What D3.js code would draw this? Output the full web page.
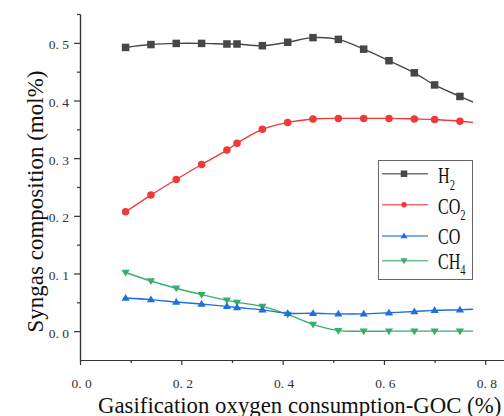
<!DOCTYPE html>
<html>
<head>
<meta charset="utf-8">
<script src="https://cdn.jsdelivr.net/npm/d3@7"></script>
<style>
  html, body { margin: 0; padding: 0; background: #fff; }
  svg { display: block; }
  text { font-family: "Liberation Serif", "DejaVu Serif", serif; }
</style>
</head>
<body>
<script>
// ---- data ----
const goc = [0.09, 0.14, 0.19, 0.24, 0.29, 0.31, 0.36, 0.41, 0.46, 0.51, 0.56, 0.61, 0.66, 0.70, 0.75, 0.776];
const h2  = [0.492, 0.497, 0.499, 0.499, 0.498, 0.498, 0.495, 0.501, 0.509, 0.506, 0.489, 0.469, 0.448, 0.427, 0.407, 0.397];
const co2 = [0.207, 0.236, 0.263, 0.289, 0.314, 0.326, 0.350, 0.362, 0.368, 0.369, 0.369, 0.369, 0.368, 0.367, 0.364, 0.362];
const co  = [0.0575, 0.0547, 0.0505, 0.047, 0.043, 0.041, 0.037, 0.031, 0.031, 0.030, 0.030, 0.032, 0.034, 0.036, 0.037, 0.038];
const ch4 = [0.1017, 0.087, 0.0744, 0.0634, 0.0535, 0.050, 0.043, 0.029, 0.0117, 0.001, 0.0, 0.0, 0.0, 0.0, 0.0, 0.0];
// the last point of each series ends the fitted line and carries no marker
const markerCount = 15;

const xMajorTicks = [0, 0.2, 0.4, 0.6, 0.8];
const xMinorTicks = [0.1, 0.3, 0.5, 0.7];
const yMajorTicks = [0, 0.1, 0.2, 0.3, 0.4, 0.5];
const yMinorTicks = [0.05, 0.15, 0.25, 0.35, 0.45, 0.55];

const series = [
  { name: "H", sub: "2", values: h2,  color: "#474747", marker: "square" },
  { name: "CO", sub: "2", values: co2, color: "#f03a3a", marker: "circle" },
  { name: "CO", sub: "",  values: co,  color: "#1f6fdc", marker: "triUp" },
  { name: "CH", sub: "4", values: ch4, color: "#3aad6a", marker: "triDown" }
];

const xTitle = "Gasification oxygen consumption-GOC (%)";
const yTitle = "Syngas composition (mol%)";

// ---- layout ----
const W = 504, H = 416;
const svg = d3.select("body").append("svg").attr("width", W).attr("height", H);

const x = d3.scaleLinear().domain([0, 0.837]).range([80, 504]);
const y = d3.scaleLinear().domain([-0.05, 0.55]).range([360, 14]);

const fmt = v => d3.format(".1f")(v).replace(".", ". ");

// axes
const axisColor = "#333";
function styleAxis(g) {
  g.attr("font-family", null).attr("font-size", null);
  g.selectAll("path.domain").attr("stroke", axisColor).attr("stroke-width", 1.2);
  g.selectAll(".tick line").attr("stroke", axisColor).attr("stroke-width", 1.2);
  g.selectAll(".tick text").attr("fill", "#333").style("font-size", "13.5px")
    .style("font-family", "'Liberation Serif', serif");
}

svg.append("g").attr("transform", "translate(0,360)")
  .call(d3.axisBottom(x).tickValues(xMinorTicks).tickSize(3).tickSizeOuter(0).tickFormat(""))
  .call(styleAxis);
svg.append("g").attr("transform", "translate(0,360)")
  .call(d3.axisBottom(x).tickValues(xMajorTicks).tickSize(5).tickSizeOuter(0).tickPadding(13).tickFormat(fmt))
  .call(styleAxis)
  .call(g => g.selectAll(".tick text").attr("dx", 1));

svg.append("g").attr("transform", "translate(80,0)")
  .call(d3.axisLeft(y).tickValues(yMinorTicks).tickSize(3).tickSizeOuter(0).tickFormat(""))
  .call(styleAxis);
svg.append("g").attr("transform", "translate(80,0)")
  .call(d3.axisLeft(y).tickValues(yMajorTicks).tickSize(6).tickSizeOuter(0).tickPadding(5).tickFormat(fmt))
  .call(styleAxis)
  .call(g => g.selectAll(".tick text").attr("dy", "0.45em"));

// titles
svg.append("text")
  .attr("x", 98).attr("y", 412.5)
  .attr("fill", "#111")
  .style("font-size", "22.8px")
  .text(xTitle);

svg.append("text")
  .attr("transform", "translate(42.5,201.5) rotate(-90)")
  .attr("text-anchor", "middle")
  .attr("fill", "#111")
  .style("font-size", "23px")
  .text(yTitle);

// markers
function drawMarker(g, type, cx, cy, size, color) {
  if (type === "square") {
    g.append("rect").attr("x", cx - size / 2).attr("y", cy - size / 2)
      .attr("width", size).attr("height", size).attr("fill", color);
  } else if (type === "circle") {
    g.append("circle").attr("cx", cx).attr("cy", cy).attr("r", size / 2).attr("fill", color);
  } else {
    const up = type === "triUp";
    const h = size * 0.9, w = size * 1.1;
    const pts = up
      ? [[cx, cy - h * 0.6], [cx - w / 2, cy + h * 0.4], [cx + w / 2, cy + h * 0.4]]
      : [[cx, cy + h * 0.6], [cx - w / 2, cy - h * 0.4], [cx + w / 2, cy - h * 0.4]];
    g.append("polygon").attr("points", pts.map(p => p.join(",")).join(" ")).attr("fill", color);
  }
}

const line = d3.line().curve(d3.curveCatmullRom.alpha(0.5));

// draw in reverse so H2 is on top
[...series].reverse().forEach(s => {
  const g = svg.append("g");
  const pts = goc.map((gv, i) => [x(gv), y(s.values[i])]);
  g.append("path").attr("d", line(pts)).attr("fill", "none")
    .attr("stroke", s.color).attr("stroke-width", 1.4);
  pts.slice(0, markerCount).forEach(p => drawMarker(g, s.marker, p[0], p[1], 7.5, s.color));
});

// legend
const legend = svg.append("g");
legend.append("rect").attr("x", 378.5).attr("y", 160.5).attr("width", 94).attr("height", 119)
  .attr("fill", "#fff").attr("stroke", "#666").attr("stroke-width", 1);
const rowY = [173.7, 204.7, 236, 260.7];
const baseOff = [9.3, 8.8, 7.7, 8.0];
series.forEach((s, i) => {
  const ly = rowY[i];
  legend.append("line").attr("x1", 382).attr("x2", 428).attr("y1", ly).attr("y2", ly)
    .attr("stroke", s.color).attr("stroke-width", 1.4).attr("stroke-opacity", 0.75);
  drawMarker(legend, s.marker, 404, ly, s.marker === "circle" ? 5.5 : 6.5, s.color);
  const t = legend.append("text")
    .attr("transform", `translate(438,${ly + baseOff[i]}) scale(0.7,1)`)
    .attr("fill", "#111").style("font-size", "23px");
  t.append("tspan").text(s.name);
  if (s.sub) t.append("tspan").attr("dy", 6.5).style("font-size", "15px").text(s.sub);
});
</script>
</body>
</html>
